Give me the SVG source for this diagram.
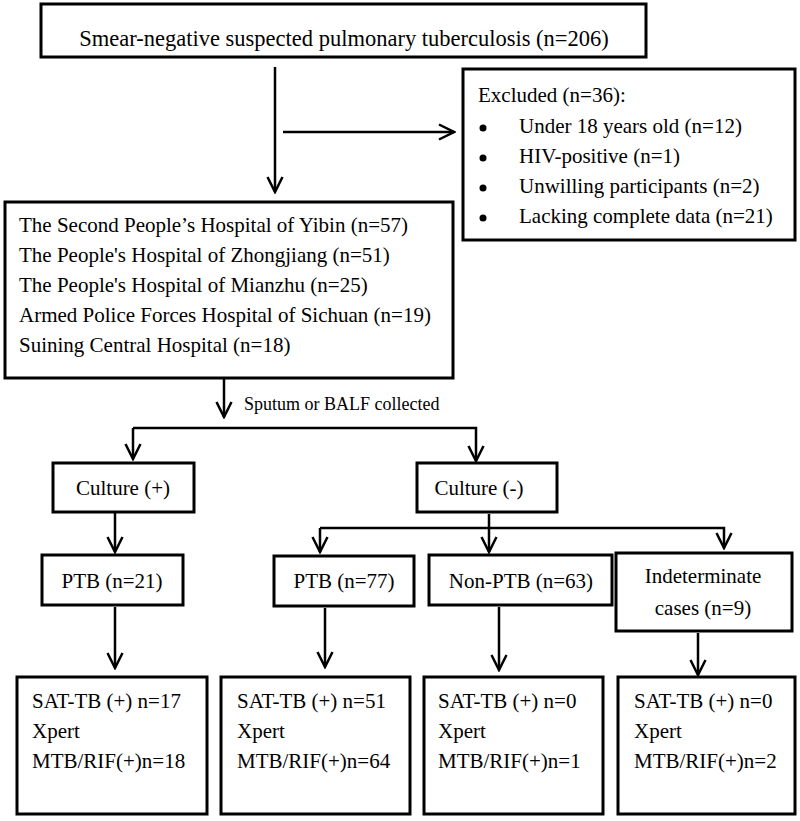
<svg xmlns="http://www.w3.org/2000/svg" width="800" height="821" viewBox="0 0 800 821">
<defs>
<style>
.box{fill:#fff;stroke:#000;stroke-width:3}
.ln{fill:none;stroke:#000;stroke-width:2.5}
text{font-family:"Liberation Serif","Times New Roman",serif;font-size:21px;fill:#000}
.c{text-anchor:middle}
.sm{font-size:18px}
.lg{font-size:22.5px}
</style>
<marker id="ah" markerUnits="userSpaceOnUse" markerWidth="18" markerHeight="18" viewBox="0 0 18 18" refX="16" refY="9" orient="auto">
<path d="M1,1.5 L16,9 L1,16.5" fill="none" stroke="#000" stroke-width="2.5"/>
</marker>
</defs>
<rect width="800" height="821" fill="#fff"/>

<g id="connectors">
<path class="ln" d="M275,67 V192" marker-end="url(#ah)"/>
<path class="ln" d="M283,132 H454" marker-end="url(#ah)"/>
<path class="ln" d="M224,378 V417" marker-end="url(#ah)"/>
<path class="ln" d="M133,428 H476 V461" marker-end="url(#ah)"/>
<path class="ln" d="M133,428 V459" marker-end="url(#ah)"/>
<path class="ln" d="M115,513 V552" marker-end="url(#ah)"/>
<path class="ln" d="M489,514 V552" marker-end="url(#ah)"/>
<path class="ln" d="M320,528 H724 V548" marker-end="url(#ah)"/>
<path class="ln" d="M320,528 V552" marker-end="url(#ah)"/>
<path class="ln" d="M115,607 V668" marker-end="url(#ah)"/>
<path class="ln" d="M325,608 V667" marker-end="url(#ah)"/>
<path class="ln" d="M499,607 V670" marker-end="url(#ah)"/>
<path class="ln" d="M698,633 V675" marker-end="url(#ah)"/>
</g>

<g id="n-start">
<rect class="box" x="41" y="4" width="605" height="53"/>
<text class="c lg" x="344" y="46">Smear-negative suspected pulmonary tuberculosis (n=206)</text>
</g>

<g id="n-excluded">
<rect class="box" x="463" y="69" width="332" height="171"/>
<text x="478" y="102">Excluded (n=36):</text>
<circle cx="483" cy="128" r="3.5"/>
<circle cx="483" cy="158" r="3.5"/>
<circle cx="483" cy="188" r="3.5"/>
<circle cx="483" cy="218" r="3.5"/>
<text x="519" y="133">Under 18 years old (n=12)</text>
<text x="519" y="163">HIV-positive (n=1)</text>
<text x="519" y="193">Unwilling participants (n=2)</text>
<text x="519" y="223">Lacking complete data (n=21)</text>
</g>

<g id="n-hospitals">
<rect class="box" x="5" y="202" width="448" height="176"/>
<text x="19" y="232">The Second People’s Hospital of Yibin (n=57)</text>
<text x="19" y="262">The People's Hospital of Zhongjiang (n=51)</text>
<text x="19" y="292">The People's Hospital of Mianzhu (n=25)</text>
<text x="19" y="322">Armed Police Forces Hospital of Sichuan (n=19)</text>
<text x="19" y="352">Suining Central Hospital (n=18)</text>
</g>

<g id="l-sputum">
<text class="sm" x="244" y="410">Sputum or BALF collected</text>
</g>

<g id="n-culture-pos">
<rect class="box" x="53" y="463" width="141" height="49"/>
<text class="c" x="123" y="495">Culture (+)</text>
</g>

<g id="n-culture-neg">
<rect class="box" x="417" y="463" width="140" height="49"/>
<text class="c" x="479" y="495">Culture (-)</text>
</g>

<g id="n-ptb21">
<rect class="box" x="42" y="555" width="141" height="50"/>
<text class="c" x="112" y="588">PTB (n=21)</text>
</g>

<g id="n-ptb77">
<rect class="box" x="274" y="556" width="140" height="50"/>
<text class="c" x="344" y="588">PTB (n=77)</text>
</g>

<g id="n-nonptb">
<rect class="box" x="429" y="555" width="183" height="50"/>
<text class="c" x="521" y="588">Non-PTB (n=63)</text>
</g>

<g id="n-indet">
<rect class="box" x="616" y="553" width="176" height="78"/>
<text class="c" x="703" y="583">Indeterminate</text>
<text class="c" x="703" y="615">cases (n=9)</text>
</g>

<g id="n-res1">
<rect class="box" x="17" y="677" width="190" height="137"/>
<text x="32" y="708">SAT-TB (+) n=17</text>
<text x="32" y="738">Xpert</text>
<text x="32" y="768">MTB/RIF(+)n=18</text>
</g>

<g id="n-res2">
<rect class="box" x="221" y="677" width="189" height="137"/>
<text x="237" y="708">SAT-TB (+) n=51</text>
<text x="237" y="738">Xpert</text>
<text x="237" y="768">MTB/RIF(+)n=64</text>
</g>

<g id="n-res3">
<rect class="box" x="424" y="677" width="179" height="137"/>
<text x="438" y="708">SAT-TB (+) n=0</text>
<text x="438" y="738">Xpert</text>
<text x="438" y="768">MTB/RIF(+)n=1</text>
</g>

<g id="n-res4">
<rect class="box" x="618" y="677" width="177" height="137"/>
<text x="634" y="708">SAT-TB (+) n=0</text>
<text x="634" y="738">Xpert</text>
<text x="634" y="768">MTB/RIF(+)n=2</text>
</g>
</svg>
